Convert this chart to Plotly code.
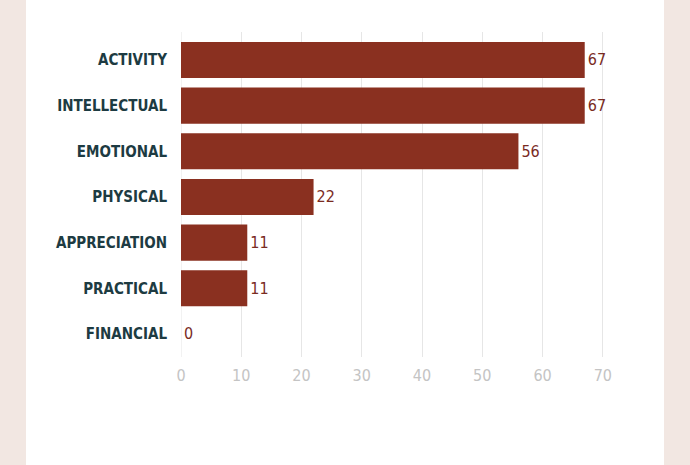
import plotly.graph_objects as go

categories = ["ACTIVITY", "INTELLECTUAL", "EMOTIONAL", "PHYSICAL", "APPRECIATION", "PRACTICAL", "FINANCIAL"]
values = [67, 67, 56, 22, 11, 11, 0]
x_ticks = [0, 10, 20, 30, 40, 50, 60, 70]

BAR = "#8a3020"
LABEL = "#1d3b42"
FONT = "DejaVu Sans Condensed, sans-serif"

W, H = 690, 465
L, R, T, B = 181, 86, 32, 108
pw, ph = W - L - R, H - T - B

fig = go.Figure(go.Bar(
    x=values, y=categories, orientation="h",
    marker=dict(color=BAR, line=dict(width=0)),
    width=0.79,
    text=[str(v) for v in values], textposition="outside",
    textfont=dict(family=FONT, size=16, color="#7a2b1f", weight=500),
    cliponaxis=False,
))

fig.add_shape(type="rect", xref="paper", yref="paper",
              x0=(26 - L) / pw, x1=(664 - L) / pw,
              y0=-(H - T - ph) / ph - 0.1, y1=1 + T / ph + 0.1,
              fillcolor="white", line=dict(width=0), layer="below")

fig.update_layout(
    width=W, height=H,
    margin=dict(l=L, r=R, t=T, b=B),
    paper_bgcolor="#f2e7e2", plot_bgcolor="white",
    showlegend=False,
    font=dict(family=FONT),
    xaxis=dict(range=[0, 70.2], tickvals=x_ticks, showgrid=True, gridcolor="#e6e6e6", gridwidth=1,
               zeroline=False, showline=False, ticks="",
               tickfont=dict(family=FONT, size=16, color="#c4c4c4"), ticklabelstandoff=7),
    yaxis=dict(categoryorder="array", categoryarray=categories, range=[6.504, -0.613],
               showgrid=False, zeroline=False, showline=False, ticks="",
               tickfont=dict(family=FONT, size=15, color=LABEL, weight="bold"),
               ticklabelstandoff=13),
)
fig.add_vline(x=0, line=dict(color="#e6e6e6", width=1), layer="below")

fig.write_html("out.html")
